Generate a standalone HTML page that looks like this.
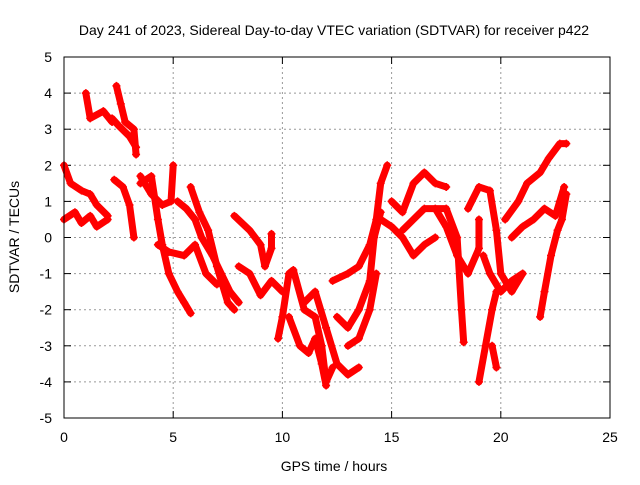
<!DOCTYPE html>
<html><head><meta charset="utf-8"><style>
body{margin:0;background:#fff}
svg text{font-family:"Liberation Sans",sans-serif;font-size:14px;fill:#000}
</style></head><body>
<svg id="chart" width="640" height="480" xmlns="http://www.w3.org/2000/svg">
<text x="334" y="35" text-anchor="middle">Day 241 of 2023, Sidereal Day-to-day VTEC variation (SDTVAR) for receiver p422</text>
<g id="grid"></g>
<g id="ticks"></g>
<g id="marks"></g>
<rect x="64" y="57" width="546" height="361" fill="none" stroke="#000" stroke-width="1"/>
<text x="334" y="471" text-anchor="middle">GPS time / hours</text>
<text transform="translate(19,237) rotate(-90)" text-anchor="middle">SDTVAR / TECUs</text>
</svg>
<script>
const xTicks=[0,5,10,15,20,25];
const yTicks=[-5,-4,-3,-2,-1,0,1,2,3,4,5];
const tracks=[
[[0,2.0],[0.3,1.5],[0.8,1.3],[1.2,1.2],[1.5,0.9],[2,0.6]],
[[0,0.5],[0.5,0.7],[0.8,0.4],[1.2,0.6],[1.5,0.3],[2,0.5]],
[[1.0,4.0],[1.2,3.3],[1.8,3.5],[2.2,3.2]],
[[2.4,4.2],[2.6,3.7],[2.8,3.2],[3.2,3.0],[3.3,2.3]],
[[2.2,3.3],[2.5,3.1],[3,2.8],[3.3,2.5]],
[[2.3,1.6],[2.7,1.4],[3,0.9],[3.2,0]],
[[3.5,1.5],[4,1.7],[4.3,0.5],[4.5,-0.2],[4.8,-1],[5.2,-1.5],[5.5,-1.8],[5.8,-2.1]],
[[3.5,1.7],[4,1.2],[4.5,0.9],[4.9,1.0],[5.0,2.0]],
[[5.2,1.0],[5.6,0.8],[6,0.5],[6.3,0],[6.8,-0.5],[7.2,-1],[7.6,-1.5],[8,-1.8]],
[[5.8,1.4],[6.2,0.7],[6.6,0.2],[7,-0.8],[7.5,-1.8],[7.8,-2]],
[[4.3,-0.2],[4.8,-0.4],[5.5,-0.5],[6,-0.2],[6.5,-1],[7,-1.3]],
[[7.8,0.6],[8.5,0.2],[9,-0.2],[9.2,-0.8],[9.5,-0.3],[9.5,0.1]],
[[8,-0.8],[8.5,-1],[9,-1.6],[9.5,-1.2],[10,-1.5]],
[[9.8,-2.8],[10,-2.2],[10.3,-1],[10.5,-0.9],[11,-2],[11.5,-2.2],[11.8,-3],[12,-4],[12.3,-3.6]],
[[10.3,-2.2],[10.8,-3],[11.2,-3.2],[11.5,-2.8],[11.8,-3.5],[12,-4.1]],
[[11,-1.8],[11.5,-1.5],[12,-2.5],[12.5,-3.5],[13,-3.8],[13.5,-3.6]],
[[12.3,-1.2],[13,-1.0],[13.5,-0.8],[14,-0.2],[14.3,0.5],[14.5,1.5],[14.8,2.0]],
[[12.5,-2.2],[13,-2.5],[13.5,-2],[14,-1.2],[14.2,0],[14.5,0.7]],
[[13,-3],[13.5,-2.8],[14,-2],[14.3,-1]],
[[14.5,0.5],[15,0.3],[15.5,0],[16,-0.5],[16.5,-0.2],[17,0]],
[[15,1.0],[15.5,0.7],[16,1.5],[16.5,1.8],[17,1.5],[17.5,1.4]],
[[15.5,0.2],[16,0.5],[16.5,0.8],[17.5,0.8],[18,0],[18.2,-2],[18.3,-2.9]],
[[17,0.8],[17.5,0.3],[18,-0.5],[18.5,-1],[19,-0.3],[19,0.5]],
[[18.5,0.8],[19,1.4],[19.5,1.3],[19.8,0.2],[20,-1],[20.5,-1.5],[21,-1.0]],
[[19,-4],[19.3,-3],[19.6,-2],[19.8,-1.5]],
[[19.6,-3],[19.8,-3.6]],
[[19.2,-0.5],[19.5,-1],[20,-1.5],[20.5,-1.2],[21,-1]],
[[20.2,0.5],[20.8,1.0],[21.2,1.5],[21.8,1.8],[22.2,2.2],[22.7,2.6],[23,2.6]],
[[20.5,0],[21,0.3],[21.5,0.5],[22,0.8],[22.5,0.6],[22.7,1.0],[22.9,1.4]],
[[21.8,-2.2],[22,-1.5],[22.3,-0.5],[22.6,0.2],[22.8,0.5],[23,1.2]]
];
const NS='http://www.w3.org/2000/svg';
const X=v=>64+v/25*546, Y=v=>418-(v+5)/10*361;
const grid=document.getElementById('grid'),ticks=document.getElementById('ticks'),marks=document.getElementById('marks');
function mk(t,a,p){const e=document.createElementNS(NS,t);for(const k in a)e.setAttribute(k,a[k]);p.appendChild(e);return e;}
xTicks.forEach(v=>{const x=X(v);
 if(v>0&&v<25){const g=mk('line',{x1:x,x2:x,y1:57,y2:418,stroke:'#999','stroke-dasharray':'2,3'},grid);
 
 }
 const t=mk('line',{x1:x,x2:x,y1:418,y2:411,stroke:'#000'},ticks);
 
 
 mk('line',{x1:x,x2:x,y1:57,y2:64,stroke:'#000'},ticks);
 const l=mk('text',{x:x,y:442,'text-anchor':'middle'},ticks);l.textContent=v;
 
 });
yTicks.forEach(v=>{const y=Y(v);
 if(v>-5&&v<5){const g=mk('line',{x1:64,x2:610,y1:y,y2:y,stroke:'#999','stroke-dasharray':'2,3'},grid);
 
 }
 const t=mk('line',{x1:64,x2:71,y1:y,y2:y,stroke:'#000'},ticks);
 
 
 mk('line',{x1:610,x2:603,y1:y,y2:y,stroke:'#000'},ticks);
 const l=mk('text',{x:52,y:y+5,'text-anchor':'end'},ticks);l.textContent=v;
 
 });
tracks.forEach(tr=>{
 const p=mk('polyline',{points:tr.map(d=>X(d[0])+','+Y(d[1])).join(' '),fill:'none',stroke:'#f00','stroke-width':7,'stroke-linejoin':'round','stroke-linecap':'round'},marks);
 
 
 tr.forEach(d=>{const x=X(d[0]),y=Y(d[1]);
  const m=mk('path',{d:`M${x-4},${y}H${x+4}M${x},${y-4}V${y+4}`,stroke:'#f00','stroke-width':1.5},marks);
  
  });
});
</script>
</body></html>
